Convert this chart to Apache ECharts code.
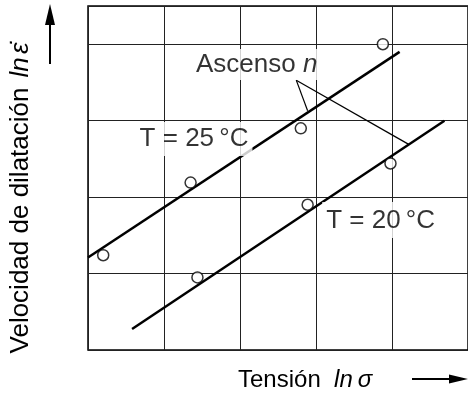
<!DOCTYPE html>
<html>
<head>
<meta charset="utf-8">
<script src="https://cdn.jsdelivr.net/npm/echarts@6/dist/echarts.min.js"></script>
<style>
  html, body { margin: 0; padding: 0; background: #fff; }
  #chart { width: 468px; height: 396px; }
</style>
</head>
<body>
<div id="chart"></div>
<script>
// Measured creep points (ln σ, ln ε̇) at two temperatures
const points25 = [[0.20, 1.24], [1.35, 2.19], [2.80, 2.90], [3.88, 4.00]];
const points20 = [[1.44, 0.95], [2.89, 1.90], [3.98, 2.44]];

// Fitted straight lines (end points)
const fit25 = [[0.00, 1.21], [4.10, 3.90]];
const fit20 = [[0.58, 0.275], [4.69, 3.00]];

// Leader lines pointing from the "Ascenso n" note to both fits
const leaderA = [[2.74, 3.53], [2.89, 3.13]];
const leaderB = [[2.74, 3.53], [4.22, 2.69]];

// Text notes placed in data coordinates, with the white box padding around each
const notes = [
  { text: 'T = 25\u2009°C', at: [1.395, 2.76], pad: [4, 4, 4, 4] },
  { text: 'Ascenso {i|n}', at: [2.22, 3.735], pad: [3, 3, 2, 3] },
  { text: 'T = 20\u2009°C', at: [3.85, 1.70], pad: [6, 4, 4, 4] }
];

const FONT = '"Liberation Sans", Arial, Helvetica, sans-serif';

const chart = echarts.init(document.getElementById('chart'), null, { renderer: 'canvas' });

chart.setOption({
  animation: false,
  backgroundColor: '#fff',
  grid: {
    left: 88, top: 6, bottom: 46, right: -4,
    show: true, borderColor: '#000', borderWidth: 1.5, backgroundColor: 'transparent'
  },
  xAxis: {
    type: 'value', min: 0, max: 5, interval: 1,
    axisLine: { show: false }, axisTick: { show: false }, axisLabel: { show: false },
    splitLine: { show: true, lineStyle: { color: '#222', width: 1 } }
  },
  yAxis: {
    type: 'value', min: 0, max: 4.5, interval: 1,
    axisLine: { show: false }, axisTick: { show: false }, axisLabel: { show: false },
    splitLine: { show: true, lineStyle: { color: '#222', width: 1 } }
  },
  series: [
    { type: 'line', data: fit25, symbol: 'none', lineStyle: { color: '#000', width: 2.5 }, z: 2 },
    { type: 'line', data: fit20, symbol: 'none', lineStyle: { color: '#000', width: 2.5 }, z: 2 },
    { type: 'line', data: leaderA, symbol: 'none', lineStyle: { color: '#000', width: 1.2 }, z: 2 },
    { type: 'line', data: leaderB, symbol: 'none', lineStyle: { color: '#000', width: 1.2 }, z: 2 },
    {
      type: 'scatter', data: points25, symbol: 'circle', symbolSize: 11,
      itemStyle: { color: '#fff', borderColor: '#000', borderWidth: 1.5 }, z: 3
    },
    {
      type: 'scatter', data: points20, symbol: 'circle', symbolSize: 11,
      itemStyle: { color: '#fff', borderColor: '#000', borderWidth: 1.5 }, z: 3
    },
    {
      type: 'scatter', symbolSize: 0, z: 10, silent: true,
      data: notes.map(n => ({
        value: n.at,
        label: {
          show: true, position: 'inside', formatter: n.text,
          color: '#000', fontFamily: FONT, fontSize: 26, lineHeight: 26,
          backgroundColor: '#fff', padding: n.pad,
          rich: { i: { fontStyle: 'italic', fontFamily: FONT, fontSize: 26, color: '#000', lineHeight: 26 } }
        }
      }))
    }
  ],
  graphic: [
    {
      type: 'text', x: 21, y: 198, rotation: Math.PI / 2,
      style: {
        text: '{a|Velocidad de dilatación}   {b|ln} {b|ε̇}',
        align: 'center', verticalAlign: 'middle',
        rich: {
          a: { fontFamily: FONT, fontSize: 26, fill: '#000' },
          b: { fontFamily: FONT, fontSize: 26, fontStyle: 'italic', fill: '#000' }
        }
      }
    },
    {
      type: 'text', x: 238, y: 380,
      style: {
        text: '{a|Tensión}    {b|ln}{c|σ}',
        align: 'left', verticalAlign: 'middle',
        rich: {
          a: { fontFamily: FONT, fontSize: 24, fill: '#000' },
          b: { fontFamily: FONT, fontSize: 24, fontStyle: 'italic', fill: '#000' },
          c: { fontFamily: FONT, fontSize: 24, fontStyle: 'italic', fill: '#000', padding: [0, 0, 0, 5] }
        }
      }
    },
    { type: 'line', shape: { x1: 50, y1: 64, x2: 50, y2: 22 }, style: { stroke: '#000', lineWidth: 2 } },
    { type: 'polygon', shape: { points: [[50, 4], [45, 25], [55, 25]] }, style: { fill: '#000' } },
    { type: 'line', shape: { x1: 412, y1: 379, x2: 452, y2: 379 }, style: { stroke: '#000', lineWidth: 2 } },
    { type: 'polygon', shape: { points: [[468, 379], [449, 374.5], [449, 383.5]] }, style: { fill: '#000' } }
  ]
});
</script>
</body>
</html>
